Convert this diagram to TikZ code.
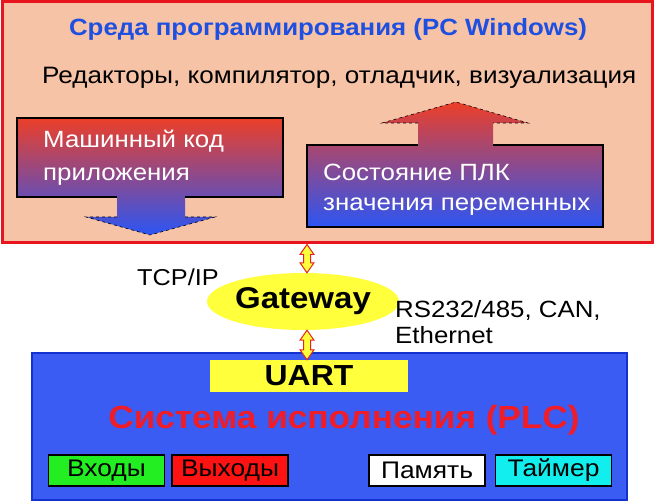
\documentclass[tikz,border=0pt]{standalone}
\usepackage{fontspec}
\setmainfont[FakeStretch=1.1]{Liberation Sans}
\usetikzlibrary{arrows.meta, positioning, shapes.geometric, calc}

\definecolor{peach}{HTML}{F6C3A6}
\definecolor{envred}{HTML}{E8141E}
\definecolor{titleblue}{HTML}{1F4FE0}
\definecolor{callred}{HTML}{EC3F28}
\definecolor{callmag}{HTML}{B844A6}
\definecolor{callblue}{HTML}{2B55F4}
\definecolor{gwyellow}{HTML}{FFFF3C}
\definecolor{linkred}{HTML}{E0261E}
\definecolor{plcblue}{HTML}{3A5CF2}
\definecolor{plcborder}{HTML}{1432D2}
\definecolor{plcred}{HTML}{F01C28}
\definecolor{ingreen}{HTML}{22EE22}
\definecolor{outred}{HTML}{FF1212}
\definecolor{timercyan}{HTML}{12EEEE}

% two-headed link between two points on one vertical line
\newcommand\linkarrow[2]{%
  \path[link] let \p1=(#1), \p2=(#2) in
    (\x1,\y1) -- (\x1+7pt,\y1-10pt) -- (\x1+3.5pt,\y1-10pt) -- (\x1+3.5pt,\y2+10pt)
    -- (\x1+7pt,\y2+10pt) -- (\x1,\y2) -- (\x1-7pt,\y2+10pt) -- (\x1-3.5pt,\y2+10pt)
    -- (\x1-3.5pt,\y1-10pt) -- (\x1-7pt,\y1-10pt) -- cycle;}

\begin{document}
\begin{tikzpicture}[
    x=1pt, y=-1pt,
    panel/.style={rectangle, inner sep=0pt},
    calltext/.style={inner sep=0pt, anchor=base west, text=white, font=\fontsize{23.5}{26}\selectfont},
    plain/.style={inner sep=0pt, anchor=west, font=\fontsize{23}{26}\selectfont},
    unit/.style={rectangle, draw=black, line width=1.5pt, minimum width=116pt, minimum height=31pt, inner sep=0pt, font=\fontsize{24}{26}\selectfont},
    link/.style={fill=gwyellow, draw=linkred, line width=1pt},
    head/.style={dashed, line width=0.6pt},
]
\useasboundingbox (0,0) rectangle (656,502);
\fill[white] (0,0) rectangle (656,502);

% programming environment
\node[panel, draw=envred, line width=3pt, fill=peach, minimum width=650pt, minimum height=241pt] (env) at (327,122.5) {};
\node[inner sep=0pt, text=titleblue, font=\bfseries\fontsize{23.5}{26}\selectfont] (envtitle) at (328,29) {Среда программирования (PC Windows)};
\node[plain, font=\fontsize{23.7}{26}\selectfont] (tools) at (42,78) {Редакторы, компилятор, отладчик, визуализация};

% download arrow
\shade[top color=callred, middle color=callmag, bottom color=callblue]
  (17,118) -- (283,118) -- (283,197) -- (185,197) -- (185,217) -- (215,217) -- (150,235)
  -- (86,217) -- (117,217) -- (117,197) -- (17,197) -- cycle;
\draw[line width=1.5pt] (117,197) -- (17,197) -- (17,118) -- (283,118) -- (283,197) -- (185,197);
\draw[head] (117,217) -- (86,217) -- (150,235) -- (215,217) -- (185,217);
\node[calltext] (code) at (43,148) {Машинный код};
\node[calltext] (code2) at (43,181) {приложения};

% upload arrow
\shade[top color=callred, middle color=callmag, bottom color=callblue]
  (307,145) -- (418,145) -- (418,123) -- (382,123) -- (456,102) -- (528,123) -- (493,123)
  -- (493,145) -- (603,145) -- (603,227) -- (307,227) -- cycle;
\draw[line width=1.5pt] (418,145) -- (307,145) -- (307,227) -- (603,227) -- (603,145) -- (493,145);
\draw[head] (418,123) -- (382,123) -- (456,102) -- (528,123) -- (493,123);
\node[calltext] (state) at (323,181) {Состояние ПЛК};
\node[calltext] (state2) at (323,211) {значения переменных};

% gateway
\node[ellipse, fill=gwyellow, minimum width=164pt, minimum height=57pt, inner sep=0pt,
      font=\bfseries\fontsize{30}{32}\selectfont] (gw) at (303,301.5) {Gateway};
\node[plain] (tcp) at (137,277) {TCP/IP};
\node[plain, align=left, font=\fontsize{23.5}{26}\selectfont] (serial) at (395,322) {RS232/485, CAN,\\Ethernet};
\coordinate (linkx) at (307,0);

% runtime system
\node[panel, draw=plcborder, line width=2pt, fill=plcblue, minimum width=595pt, minimum height=147pt] (plc) at (329.5,426.5) {};
\node[rectangle, fill=gwyellow, minimum width=198pt, minimum height=32pt, inner sep=0pt,
      font=\bfseries\fontsize{29}{30}\selectfont] (uart) at (309,376) {UART};
\node[inner sep=0pt, text=plcred, font=\bfseries\fontsize{32}{36}\selectfont] (plctitle) at (344,420) {Система исполнения (PLC)};

\node[unit, fill=ingreen] (inputs) at (106.5,470.5) {Входы};
\node[unit, fill=outred, right=6pt of inputs] (outputs) {Выходы};
\node[unit, fill=white] (memory) at (427,470.5) {Память};
\node[unit, fill=timercyan, right=9pt of memory] (timer) {Таймер};

% links
\linkarrow{env.south -| linkx}{gw.north -| linkx}
\linkarrow{gw.south -| linkx}{uart.north -| linkx}
\end{tikzpicture}
\end{document}
